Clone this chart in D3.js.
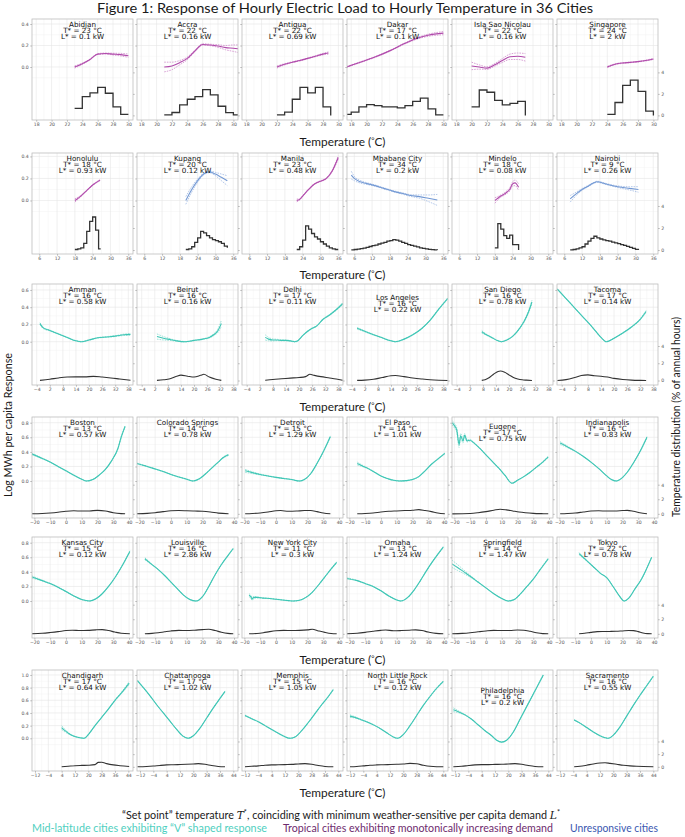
<!DOCTYPE html>
<html>
<head>
<meta charset="utf-8">
<script src="https://cdn.jsdelivr.net/npm/d3@7"></script>
<style>
  body { margin: 0; background: #fff; }
  svg text { font-family: "DejaVu Sans", sans-serif; }
  .latex { font-family: Lato, "Open Sans", sans-serif; fill: #1a1a1a; }
</style>
</head>
<body>
<div id="chart"></div>
<script>
// ---- data ----
const cities = [
  "Abidjan", "Accra", "Antigua", "Dakar", "Isla Sao Nicolau", "Singapore",
  "Honolulu", "Kupang", "Manila", "Mbabane City", "Mindelo", "Nairobi",
  "Amman", "Beirut", "Delhi", "Los Angeles", "San Diego", "Tacoma",
  "Boston", "Colorado Springs", "Detroit", "El Paso", "Eugene", "Indianapolis",
  "Kansas City", "Louisville", "New York City", "Omaha", "Springfield", "Tokyo",
  "Chandigarh", "Chattanooga", "Memphis", "North Little Rock", "Philadelphia", "Sacramento"
];
const cityGroup = [
  "trop", "trop", "trop", "trop", "trop", "trop",
  "trop", "unres", "trop", "unres", "trop", "unres",
  "v", "v", "v", "v", "v", "v",
  "v", "v", "v", "v", "v", "v",
  "v", "v", "v", "v", "v", "v",
  "v", "v", "v", "v", "v", "v"
];
const setPointT = [23, 22, 22, 17, 22, 24, 18, 20, 23, 34, 18, 9,
                   16, 16, 17, 16, 16, 17, 13, 14, 15, 14, 17, 16,
                   15, 16, 11, 13, 14, 22, 17, 17, 15, 16, 16, 16];
const minLoadL = [0.1, 0.16, 0.69, 0.1, 0.16, 2, 0.93, 0.12, 0.48, 0.2, 0.08, 0.26,
                  0.58, 0.16, 0.11, 0.22, 0.78, 0.14, 0.57, 0.78, 1.29, 1.01, 0.75, 0.83,
                  0.12, 2.86, 0.3, 1.24, 1.47, 0.78, 0.64, 1.02, 1.05, 0.12, 0.2, 0.55];

// [temperature, log response, CI half width]
const responseCurves = [
  [[23,0,0.01],[24,0.03,0.006],[25,0.07,0.004],[26,0.12,0.004],[27,0.125,0.005],[28,0.12,0.008],[29,0.115,0.012],[30,0.105,0.015]],
  [[21,0,0.045],[22,0.01,0.035],[23,0.04,0.02],[24,0.08,0.012],[25,0.15,0.008],[26,0.21,0.006],[27,0.205,0.007],[28,0.195,0.012],[29,0.18,0.02],[30,0.175,0.03],[30.6,0.17,0.035]],
  [[22,0,0.01],[23,0.025,0.006],[24,0.045,0.004],[25,0.06,0.004],[26,0.08,0.004],[27,0.1,0.005],[28,0.12,0.007],[28.7,0.13,0.01]],
  [[17.4,0,0.005],[19,0.04,0.004],[21,0.09,0.004],[23,0.15,0.004],[25,0.22,0.005],[26.5,0.265,0.007],[28,0.295,0.01],[30,0.315,0.015]],
  [[20,0.01,0.035],[21,0,0.02],[22,-0.01,0.012],[23,0.02,0.012],[24,0.06,0.018],[25,0.095,0.025],[26,0.1,0.03],[27,0.09,0.035]],
  [[24,0,0.006],[25,0.025,0.004],[26,0.037,0.003],[27,0.043,0.003],[28,0.05,0.003],[29,0.06,0.004],[30,0.075,0.005]],
  [[18,0,0.015],[20,0.04,0.006],[22,0.09,0.004],[24,0.14,0.004],[26.5,0.185,0.006]],
  [[20,0,0.035],[22,0.1,0.025],[24,0.18,0.015],[26,0.24,0.008],[28,0.26,0.008],[30,0.24,0.015],[32,0.21,0.03],[34,0.18,0.045]],
  [[22,0,0.012],[23,0.01,0.006],[24,0.04,0.004],[26,0.1,0.004],[28,0.15,0.004],[30,0.175,0.004],[32,0.2,0.005],[34,0.27,0.008],[36,0.39,0.015]],
  [[5,0.23,0.035],[6,0.2,0.02],[8,0.17,0.012],[10,0.155,0.008],[13,0.135,0.006],[16,0.11,0.005],[19,0.085,0.005],[22,0.065,0.006],[25,0.045,0.008],[28,0.035,0.015],[31,0.02,0.03],[34,0.005,0.05]],
  [[18,0,0.025],[19,0.02,0.015],[20,0.04,0.01],[21,0.055,0.01],[22,0.075,0.012],[23,0.1,0.015],[24,0.15,0.02],[24.8,0.16,0.025],[26,0.12,0.03]],
  [[8,0.015,0.03],[10,0.06,0.015],[12,0.1,0.008],[14,0.13,0.006],[16,0.16,0.005],[17,0.17,0.005],[20,0.15,0.005],[24,0.125,0.007],[28,0.11,0.015],[31,0.1,0.025]],
  [[-2.5,0.21,0.01],[-1,0.16,0.008],[2,0.13,0.005],[6,0.09,0.004],[10,0.05,0.003],[14,0.01,0.003],[16.5,0,0.003],[20,0.02,0.003],[24,0.045,0.003],[28,0.055,0.004],[32,0.065,0.005],[36,0.08,0.008],[39,0.085,0.01]],
  [[3,0.06,0.03],[6,0.04,0.02],[9,0.025,0.01],[12,0.01,0.005],[16,0,0.003],[20,0.015,0.003],[24,0.03,0.004],[27,0.05,0.006],[29,0.08,0.01],[31,0.13,0.02],[32.5,0.21,0.035]],
  [[4.5,0.05,0.03],[6,0.03,0.02],[8,0.02,0.012],[10,0.02,0.008],[12,0.015,0.006],[14,0.015,0.005],[16,0.01,0.004],[18,0,0.004],[19,0.005,0.004],[22,0.08,0.004],[26,0.155,0.004],[28,0.18,0.005],[31,0.26,0.006],[34,0.31,0.006],[37,0.37,0.008],[40,0.44,0.012]],
  [[-1.5,0.155,0.01],[2,0.12,0.005],[6,0.08,0.004],[10,0.045,0.003],[14,0.01,0.003],[16,0,0.003],[20,0.03,0.003],[24,0.08,0.003],[28,0.15,0.004],[32,0.25,0.005],[36,0.38,0.006],[40,0.5,0.008]],
  [[7.5,0.115,0.015],[9,0.09,0.008],[12,0.05,0.004],[15,0.01,0.003],[16.5,0,0.003],[19,0.02,0.003],[22,0.07,0.004],[25,0.16,0.006],[27,0.24,0.01],[29,0.35,0.015],[30.5,0.46,0.02]],
  [[-6,0.61,0.006],[-2,0.5,0.004],[2,0.39,0.003],[6,0.28,0.003],[10,0.17,0.003],[14,0.05,0.003],[16.5,0,0.003],[20,0.04,0.003],[24,0.1,0.004],[28,0.17,0.005],[32,0.26,0.008],[34.7,0.35,0.012]],
  [[-21.5,0.37,0.01],[-15,0.31,0.004],[-10,0.26,0.003],[-5,0.2,0.003],[0,0.14,0.003],[5,0.08,0.003],[10,0.025,0.003],[13,0,0.003],[17,0.02,0.003],[21,0.08,0.003],[25,0.16,0.004],[29,0.28,0.005],[33,0.45,0.006],[35,0.6,0.01],[37.5,0.75,0.012]],
  [[-21.5,0.24,0.006],[-15,0.2,0.003],[-10,0.165,0.003],[-5,0.13,0.003],[0,0.09,0.003],[5,0.055,0.003],[10,0.025,0.003],[14,0,0.003],[18,0.03,0.003],[22,0.1,0.003],[26,0.18,0.004],[30,0.26,0.005],[33,0.32,0.007],[36.5,0.36,0.01]],
  [[-19.5,0.14,0.02],[-15,0.115,0.012],[-10,0.09,0.006],[-5,0.07,0.004],[0,0.05,0.003],[5,0.035,0.003],[10,0.02,0.003],[15,0,0.003],[18,0.02,0.003],[22,0.1,0.004],[26,0.24,0.005],[30,0.4,0.006],[34.5,0.61,0.01]],
  [[-15,0.24,0.02],[-12,0.21,0.01],[-8,0.17,0.005],[-4,0.12,0.004],[0,0.07,0.003],[4,0.035,0.003],[8,0.01,0.003],[12,0,0.003],[16,0.005,0.003],[20,0.02,0.003],[24,0.06,0.004],[28,0.14,0.004],[32,0.23,0.005],[36,0.3,0.006],[40.5,0.38,0.008]],
  [[-21.5,0.8,0.03],[-20,0.76,0.03],[-18.5,0.7,0.03],[-17,0.5,0.04],[-16,0.62,0.03],[-14.5,0.55,0.03],[-13.5,0.63,0.02],[-12,0.55,0.015],[-10,0.56,0.01],[-8,0.53,0.006],[-4,0.45,0.004],[0,0.36,0.003],[4,0.27,0.003],[8,0.18,0.003],[12,0.08,0.003],[16.5,-0.03,0.003],[20,0.01,0.003],[24,0.06,0.003],[28,0.12,0.004],[32,0.19,0.005],[36,0.26,0.006],[39.5,0.33,0.008]],
  [[-19.5,0.52,0.02],[-15,0.47,0.01],[-10,0.41,0.005],[-5,0.34,0.004],[0,0.26,0.003],[5,0.17,0.003],[10,0.07,0.003],[13,0.02,0.003],[16,0,0.003],[19,0.03,0.003],[23,0.12,0.004],[27,0.25,0.005],[31,0.4,0.006],[35.5,0.6,0.01]],
  [[-21.5,0.33,0.015],[-15,0.28,0.006],[-10,0.24,0.004],[-5,0.19,0.003],[0,0.13,0.003],[5,0.07,0.003],[10,0.02,0.003],[15,0,0.003],[19,0.03,0.003],[23,0.1,0.004],[27,0.2,0.004],[31,0.32,0.005],[35,0.46,0.006],[40.5,0.68,0.01]],
  [[-16.5,0.58,0.015],[-12,0.5,0.005],[-8,0.43,0.004],[-4,0.35,0.003],[0,0.26,0.003],[4,0.17,0.003],[8,0.08,0.003],[12,0.02,0.003],[16,0,0.003],[20,0.06,0.003],[24,0.2,0.004],[28,0.36,0.004],[32,0.5,0.005],[36,0.62,0.006],[39.5,0.72,0.008]],
  [[-17,0.08,0.02],[-16,0.06,0.02],[-15,0.03,0.02],[-14,0.05,0.015],[-12,0.05,0.008],[-8,0.04,0.004],[-4,0.035,0.003],[0,0.025,0.003],[4,0.015,0.003],[8,0.005,0.003],[11,0,0.003],[15,0.01,0.003],[19,0.05,0.003],[23,0.12,0.004],[27,0.22,0.004],[31,0.33,0.005],[35,0.44,0.006],[38.5,0.53,0.01]],
  [[-21.5,0.31,0.008],[-15,0.28,0.004],[-10,0.24,0.003],[-5,0.2,0.003],[0,0.14,0.003],[5,0.07,0.003],[10,0.015,0.003],[12.5,0,0.003],[17,0.05,0.003],[21,0.15,0.003],[25,0.28,0.004],[29,0.42,0.005],[33,0.55,0.006],[36,0.64,0.007],[39.5,0.74,0.008]],
  [[-21.5,0.51,0.05],[-18,0.46,0.04],[-14,0.4,0.025],[-10,0.34,0.012],[-5,0.26,0.005],[0,0.18,0.003],[5,0.1,0.003],[10,0.035,0.003],[14,0,0.003],[18,0.02,0.003],[22,0.1,0.003],[26,0.2,0.004],[30,0.3,0.005],[34,0.42,0.006],[39.5,0.58,0.01]],
  [[-7.5,0.65,0.015],[-5,0.6,0.01],[-2,0.54,0.005],[2,0.46,0.004],[6,0.38,0.003],[10,0.32,0.003],[14,0.2,0.003],[18,0.07,0.003],[21,0,0.003],[24,0.04,0.003],[28,0.17,0.004],[32,0.3,0.005],[35,0.43,0.006],[38.5,0.6,0.008]],
  [[4,0.17,0.03],[6,0.12,0.02],[8,0.08,0.01],[10,0.05,0.006],[13,0.02,0.004],[16,0.005,0.004],[17.5,0,0.004],[20,0.06,0.004],[24,0.2,0.005],[28,0.33,0.005],[32,0.46,0.006],[36,0.6,0.008],[40,0.72,0.012],[44.5,0.87,0.025]],
  [[-13.5,0.91,0.008],[-10,0.8,0.005],[-6,0.67,0.004],[-2,0.53,0.003],[2,0.4,0.003],[6,0.27,0.003],[10,0.14,0.003],[14,0.03,0.003],[17,0,0.003],[20,0.04,0.003],[24,0.16,0.003],[28,0.32,0.004],[32,0.48,0.005],[36,0.63,0.006],[39,0.74,0.008]],
  [[-12,0.36,0.008],[-8,0.31,0.004],[-4,0.26,0.003],[0,0.2,0.003],[4,0.14,0.003],[8,0.08,0.003],[12,0.025,0.003],[15,0,0.003],[18,0.02,0.003],[22,0.12,0.003],[26,0.25,0.004],[30,0.39,0.005],[34,0.53,0.006],[38,0.66,0.007],[41,0.77,0.01]],
  [[-12,0.35,0.02],[-9,0.33,0.01],[-5,0.29,0.005],[-1,0.25,0.004],[3,0.2,0.003],[7,0.14,0.003],[11,0.07,0.003],[14,0.02,0.003],[16.5,0,0.003],[20,0.06,0.003],[24,0.2,0.004],[28,0.36,0.005],[32,0.52,0.006],[36,0.66,0.007],[40,0.79,0.008],[44,0.9,0.01]],
  [[-13,0.45,0.03],[-10,0.42,0.015],[-6,0.37,0.006],[-2,0.3,0.004],[2,0.21,0.003],[6,0.12,0.003],[10,0.04,0.003],[13,-0.03,0.003],[16,-0.06,0.003],[19,-0.03,0.003],[23,0.1,0.004],[27,0.3,0.005],[31,0.5,0.006],[35,0.7,0.008],[38,0.85,0.01],[41,1.0,0.012]],
  [[-3.5,0.29,0.006],[0,0.24,0.004],[4,0.17,0.003],[8,0.1,0.003],[12,0.04,0.003],[15,0.01,0.003],[17,0,0.003],[20,0.05,0.003],[24,0.18,0.004],[28,0.35,0.005],[32,0.52,0.006],[36,0.68,0.007],[40,0.83,0.008],[44,0.98,0.01]]
];

// temperature distribution, % of annual hours: [temperature, share]
const tempShares = [
  [[23,0.66],[24,1.75],[25,2.1],[26,2.6],[27,2.06],[28,0.8],[29,0.1],[30,0.1]],
  [[21,0.05],[22,0.27],[23,0.97],[24,1.5],[25,1.75],[26,2.4],[27,1.9],[28,0.85],[29,0.25],[30,0.05],[30.6,0.05]],
  [[22,0.05],[23,0.3],[24,1.5],[25,2.6],[26,2.1],[27,2.6],[28,0.8],[29,0]],
  [[17.4,0.09],[18,0.3],[19,0.79],[20,1.0],[21,0.91],[22,0.8],[23,0.8],[24,0.7],[25,0.91],[26,1.3],[27,1.6],[28,0.6],[29,0.05],[30,0.05]],
  [[20,0.79],[21,2.36],[22,2.15],[23,1.39],[24,0.97],[25,1.12],[26,1.3],[27,0]],
  [[24,0.09],[25,1.2],[26,2.8],[27,3.27],[28,2.24],[29,0.4],[30,0]],
  [[18,0.05],[19,0.1],[20,0.2],[21,0.6],[22,1.7],[23,2.6],[24,3.0],[25,1.8],[26,0.1],[26.7,0.1]],
  [[20,0.05],[21,0.1],[22,0.3],[23,0.7],[24,1.1],[25,1.7],[26,1.55],[27,1.3],[28,1.1],[29,0.95],[30,0.85],[31,0.75],[32,0.6],[33,0.35],[34,0.2]],
  [[22,0.05],[23,0.3],[24,0.9],[25,2.2],[26,1.9],[27,1.5],[28,1.2],[29,1.0],[30,0.75],[31,0.55],[32,0.35],[33,0.2],[34,0.1],[35,0.05],[36,0.05]],
  [[5,0.02],[6,0.05],[7,0.08],[8,0.12],[9,0.18],[10,0.25],[11,0.32],[12,0.4],[13,0.45],[14,0.55],[15,0.62],[16,0.7],[17,0.8],[18,0.85],[19,0.95],[20,0.9],[21,0.8],[22,0.7],[23,0.6],[24,0.5],[25,0.42],[26,0.35],[27,0.28],[28,0.2],[29,0.15],[30,0.1],[31,0.06],[32,0.04],[33,0.02],[34,0]],
  [[18,0.2],[19,2.4],[20,1.9],[21,1.3],[22,1.05],[23,1.35],[24,0.5],[25,0.5],[26,0]],
  [[8,0.02],[9,0.05],[10,0.1],[11,0.2],[12,0.3],[13,0.55],[14,0.8],[15,1.05],[16,1.25],[17,1.1],[18,1.0],[19,0.92],[20,0.85],[21,0.8],[22,0.72],[23,0.65],[24,0.58],[25,0.5],[26,0.42],[27,0.34],[28,0.25],[29,0.15],[30,0.06],[31,0]],
  [[-2.5,0.02],[2,0.15],[6,0.3],[10,0.4],[14,0.42],[18,0.42],[22,0.48],[26,0.4],[30,0.3],[34,0.18],[39,0.03]],
  [[3,0.02],[6,0.08],[9,0.2],[12,0.5],[14,0.62],[17,0.5],[20,0.4],[23,0.6],[24.5,0.72],[27,0.4],[30,0.15],[32.5,0.02]],
  [[4.5,0.02],[8,0.12],[12,0.2],[16,0.28],[20,0.35],[23,0.45],[25,0.72],[27,0.6],[30,0.45],[34,0.3],[37,0.18],[40,0.02]],
  [[-1.5,0.02],[2,0.05],[6,0.15],[10,0.35],[14,0.55],[16,0.58],[20,0.45],[24,0.3],[28,0.18],[32,0.08],[36,0.03],[40,0.01]],
  [[7.5,0.02],[9,0.1],[11,0.35],[13,0.75],[15,1.05],[16,1.1],[18,0.95],[20,0.65],[22,0.35],[24,0.18],[26,0.08],[28,0.04],[30.5,0.01]],
  [[-6,0.01],[-2,0.1],[2,0.35],[5,0.58],[8,0.65],[11,0.55],[14,0.5],[17,0.4],[20,0.25],[24,0.12],[28,0.05],[32,0.02],[34.7,0.01]],
  [[-21.5,0.01],[-15,0.05],[-10,0.12],[-5,0.22],[0,0.35],[5,0.42],[10,0.38],[15,0.4],[20,0.48],[25,0.4],[30,0.15],[35,0.03],[37.5,0.01]],
  [[-21.5,0.01],[-15,0.06],[-10,0.15],[-5,0.3],[0,0.42],[5,0.45],[10,0.42],[15,0.38],[20,0.35],[25,0.25],[30,0.1],[36.5,0.01]],
  [[-19.5,0.01],[-15,0.05],[-10,0.12],[-5,0.25],[0,0.42],[3,0.45],[8,0.35],[13,0.38],[18,0.45],[22,0.45],[26,0.3],[30,0.12],[34.5,0.01]],
  [[-15,0.01],[-10,0.05],[-5,0.12],[0,0.25],[5,0.35],[10,0.4],[15,0.45],[20,0.5],[24,0.58],[28,0.45],[32,0.3],[36,0.12],[40.5,0.01]],
  [[-21.5,0],[-10,0.05],[-5,0.15],[0,0.3],[5,0.5],[9,0.64],[13,0.55],[17,0.4],[21,0.25],[25,0.15],[30,0.07],[35,0.03],[39.5,0.01]],
  [[-19.5,0.01],[-15,0.05],[-10,0.12],[-5,0.25],[0,0.38],[5,0.42],[10,0.38],[15,0.4],[20,0.45],[23,0.48],[27,0.35],[31,0.15],[35.5,0.01]],
  [[-21.5,0.02],[-15,0.08],[-10,0.18],[-5,0.3],[0,0.45],[4,0.5],[9,0.45],[14,0.48],[19,0.55],[23,0.58],[27,0.45],[31,0.25],[35,0.08],[40.5,0.01]],
  [[-16.5,0.01],[-12,0.06],[-8,0.15],[-4,0.28],[0,0.4],[5,0.48],[10,0.45],[15,0.5],[20,0.58],[24,0.62],[28,0.45],[32,0.22],[36,0.06],[39.5,0.01]],
  [[-17,0.01],[-12,0.05],[-8,0.15],[-4,0.3],[0,0.42],[5,0.48],[10,0.45],[15,0.48],[20,0.55],[23,0.62],[27,0.4],[31,0.2],[35,0.05],[38.5,0.01]],
  [[-21.5,0.01],[-15,0.08],[-10,0.2],[-5,0.35],[0,0.48],[3,0.52],[8,0.42],[13,0.45],[18,0.5],[22,0.55],[26,0.45],[30,0.25],[35,0.06],[39.5,0.01]],
  [[-21.5,0.01],[-15,0.06],[-10,0.15],[-5,0.28],[0,0.4],[5,0.48],[10,0.45],[15,0.45],[20,0.52],[24,0.5],[28,0.35],[32,0.15],[36,0.03],[39.5,0.01]],
  [[-7.5,0.01],[-4,0.08],[0,0.2],[4,0.3],[8,0.32],[12,0.33],[16,0.35],[20,0.4],[24,0.45],[27,0.44],[30,0.3],[33,0.12],[36,0.03],[38.5,0.01]],
  [[4,0.02],[8,0.1],[12,0.18],[16,0.22],[20,0.25],[24,0.35],[26,0.7],[28,0.72],[31,0.5],[35,0.3],[39,0.18],[44.5,0.05]],
  [[-13.5,0.01],[-8,0.05],[-4,0.12],[0,0.22],[4,0.3],[8,0.33],[12,0.36],[16,0.4],[20,0.45],[23,0.5],[27,0.4],[31,0.2],[35,0.06],[39,0.01]],
  [[-12,0.01],[-8,0.08],[-4,0.15],[0,0.25],[4,0.3],[8,0.32],[12,0.35],[16,0.38],[20,0.45],[24,0.5],[28,0.4],[32,0.2],[36,0.06],[41,0.01]],
  [[-12,0.01],[-8,0.06],[-4,0.15],[0,0.25],[4,0.3],[8,0.33],[12,0.36],[16,0.4],[20,0.45],[24,0.55],[28,0.48],[32,0.25],[36,0.08],[40,0.02],[44,0.01]],
  [[-13,0.01],[-8,0.08],[-4,0.2],[0,0.3],[4,0.35],[8,0.35],[12,0.38],[16,0.4],[20,0.45],[24,0.5],[28,0.4],[32,0.2],[36,0.06],[41,0.01]],
  [[-3.5,0.01],[0,0.08],[4,0.25],[8,0.45],[12,0.6],[15,0.65],[18,0.55],[22,0.4],[26,0.25],[30,0.15],[34,0.08],[38,0.04],[44,0.01]]
];

const rowXTicks = [
  [18, 20, 22, 24, 26, 28, 30],
  [6, 12, 18, 24, 30, 36],
  [-4, 2, 8, 14, 20, 26, 32, 38],
  [-20, -10, 0, 10, 20, 30, 40],
  [-20, -10, 0, 10, 20, 30, 40],
  [-12, -4, 4, 12, 20, 28, 36, 44]
];
const rowYTicks = [
  [0, 0.2, 0.4],
  [0, 0.2, 0.4],
  [0, 0.2, 0.4, 0.6],
  [0, 0.2, 0.4, 0.6, 0.8],
  [0, 0.2, 0.4, 0.6, 0.8],
  [0, 0.2, 0.4, 0.6, 0.8, 1.0]
];
const shareTicks = [0, 2, 4];

// ---- layout ----
const width = 685, height = 837;
const panelX0 = 32, panelStep = 105, panelW = 101, panelH = 101;
const rowTop = [19, 153, 284, 417, 537, 670];
const rowDomainX = [[17.45, 30.6], [3.55, 37.6], [-6.15, 40.15], [-21.5, 42.5], [-21.5, 42.5], [-13.8, 46.8]];
const rowDomainY = [[-0.493, 0.4465], [-0.486, 0.431], [-0.502, 0.669], [-0.507, 0.878], [-0.507, 0.878], [-0.516, 1.078]];
const shareZero = -0.45;        // 0 % sits here on the response axis, 1 % = 0.1
const stepRows = [0, 1];        // coarse 1 degree bins drawn as steps
const axisTitleRows = [[0, 146], [1, 279], [2, 411], [4, 664], [5, 797]];
const labelShift = { "Los Angeles": 8, "Eugene": 4, "Philadelphia": 15 };

const lineColor = { trop: "#b04aab", unres: "#7399d4", v: "#3ec6b5" };
const ciColor = { trop: "#cf8ccb", unres: "#a2bbe5", v: "#86dccf" };

const svg = d3.select("#chart")
  .append("svg")
    .attr("width", width)
    .attr("height", height)
    .style("background", "#fff");

function styleAxis(sel) {
  sel.select(".domain").remove();
  sel.selectAll("line").attr("stroke", "#8a8a8a").attr("stroke-width", 0.5);
  sel.selectAll("text")
    .attr("fill", "#555")
    .style("font-size", "4.6px")
    .style("font-family", "DejaVu Sans");
}

cities.forEach(function(name, i) {
  const row = Math.floor(i / 6), col = i % 6;
  const left = panelX0 + col * panelStep, top = rowTop[row];

  const x = d3.scaleLinear().domain(rowDomainX[row]).range([left, left + panelW]);
  const y = d3.scaleLinear().domain(rowDomainY[row]).range([top + panelH, top]);
  const yShare = d3.scaleLinear()
      .domain(rowDomainY[row].map(v => (v - shareZero) * 10))
      .range([top + panelH, top]);

  const g = svg.append("g").attr("class", "panel");
  g.append("clipPath").attr("id", "clip" + i)
    .append("rect").attr("x", left).attr("y", top).attr("width", panelW).attr("height", panelH);

  g.append("rect")
    .attr("x", left).attr("y", top).attr("width", panelW).attr("height", panelH)
    .attr("fill", "#fff");

  // grid
  const xt = rowXTicks[row], xs = xt[1] - xt[0];
  const xMinor = d3.range(xt[0] - xs / 2, xt[xt.length - 1] + xs, xs)
      .filter(d => d > rowDomainX[row][0] && d < rowDomainX[row][1]);
  const yt = rowYTicks[row];
  const yMinor = d3.range(yt[0] - 0.1, yt[yt.length - 1] + 0.2, 0.2)
      .filter(d => d > rowDomainY[row][0] && d < rowDomainY[row][1]);

  const grid = g.append("g").attr("clip-path", "url(#clip" + i + ")");
  grid.selectAll(".xminor").data(xMinor).join("line")
    .attr("x1", d => x(d)).attr("x2", d => x(d)).attr("y1", top).attr("y2", top + panelH)
    .attr("stroke", "#f3f3f3").attr("stroke-width", 0.5);
  grid.selectAll(".yminor").data(yMinor).join("line")
    .attr("x1", left).attr("x2", left + panelW).attr("y1", d => y(d)).attr("y2", d => y(d))
    .attr("stroke", "#f3f3f3").attr("stroke-width", 0.5);
  grid.selectAll(".xmajor").data(xt).join("line")
    .attr("x1", d => x(d)).attr("x2", d => x(d)).attr("y1", top).attr("y2", top + panelH)
    .attr("stroke", "#e6e6e6").attr("stroke-width", 0.6);
  grid.selectAll(".ymajor").data(yt).join("line")
    .attr("x1", left).attr("x2", left + panelW).attr("y1", d => y(d)).attr("y2", d => y(d))
    .attr("stroke", "#e6e6e6").attr("stroke-width", 0.6);

  const plot = g.append("g").attr("clip-path", "url(#clip" + i + ")");

  // temperature distribution
  const shareLine = d3.line()
      .x(d => x(d[0]))
      .y(d => yShare(d[1]))
      .curve(stepRows.includes(row) ? d3.curveStepAfter : d3.curveMonotoneX);
  plot.append("path")
    .datum(tempShares[i])
    .attr("d", shareLine)
    .attr("fill", "none")
    .attr("stroke", "#333")
    .attr("stroke-width", stepRows.includes(row) ? 1.3 : 1.1);

  // response and its confidence band
  const grp = cityGroup[i];
  const curve = responseCurves[i];
  [1, -1].forEach(function(s) {
    plot.append("path")
      .datum(curve)
      .attr("d", d3.line().x(d => x(d[0])).y(d => y(d[1] + s * d[2])).curve(d3.curveMonotoneX))
      .attr("fill", "none")
      .attr("stroke", ciColor[grp])
      .attr("stroke-width", 0.8)
      .attr("stroke-dasharray", "1.6,1");
  });
  plot.append("path")
    .datum(curve)
    .attr("d", d3.line().x(d => x(d[0])).y(d => y(d[1])).curve(d3.curveMonotoneX))
    .attr("fill", "none")
    .attr("stroke", lineColor[grp])
    .attr("stroke-width", 1.1);

  g.append("rect")
    .attr("x", left).attr("y", top).attr("width", panelW).attr("height", panelH)
    .attr("fill", "none").attr("stroke", "#bdbdbd").attr("stroke-width", 0.8);

  // panel label
  const lab = g.append("text")
    .attr("text-anchor", "middle")
    .attr("fill", "#111")
    .style("font-size", "7.2px");
  const ly = top + 7.5 + (labelShift[name] || 0);
  [name, "T* = " + setPointT[i] + " °C", "L* = " + minLoadL[i] + " kW"].forEach(function(t, k) {
    lab.append("tspan").attr("x", left + panelW / 2).attr("y", ly + k * 6).text(t);
  });

  // axes
  g.append("g")
    .attr("transform", "translate(0," + (top + panelH) + ")")
    .call(d3.axisBottom(x).tickValues(xt).tickSize(1.8).tickPadding(1.2))
    .call(styleAxis);

  g.append("g")
    .attr("transform", "translate(" + left + ",0)")
    .call(d3.axisLeft(y).tickValues(yt).tickSize(1.8).tickPadding(1.5)
      .tickFormat(col === 0 ? d3.format(".1f") : ""))
    .call(styleAxis);

  g.append("g")
    .attr("transform", "translate(" + (left + panelW) + ",0)")
    .call(d3.axisRight(yShare).tickValues(shareTicks).tickSize(1.8).tickPadding(1.5)
      .tickFormat(col === 5 ? d3.format("d") : ""))
    .call(styleAxis);
});

// x axis titles
axisTitleRows.forEach(function(r) {
  const t = svg.append("text")
    .attr("class", "latex")
    .attr("x", 342.5).attr("y", r[1])
    .attr("text-anchor", "middle")
    .style("font-size", "11.5px")
    .attr("textLength", 86).attr("lengthAdjust", "spacingAndGlyphs");
  t.append("tspan").text("Temperature (");
  t.append("tspan").attr("dy", -3.5).style("font-size", "7.5px").text("°");
  t.append("tspan").attr("dy", 3.5).text("C)");
});

// title
svg.append("text")
  .attr("class", "latex")
  .attr("x", 345).attr("y", 12.5)
  .attr("text-anchor", "middle")
  .style("font-size", "14px")
  .attr("textLength", 496).attr("lengthAdjust", "spacingAndGlyphs")
  .text("Figure 1: Response of Hourly Electric Load to Hourly Temperature in 36 Cities");

// y axis titles
svg.append("text")
  .attr("class", "latex")
  .attr("transform", "translate(12,425) rotate(-90)")
  .attr("text-anchor", "middle")
  .style("font-size", "11px")
  .attr("textLength", 144).attr("lengthAdjust", "spacingAndGlyphs")
  .text("Log MWh per capita Response");

svg.append("text")
  .attr("class", "latex")
  .attr("transform", "translate(680,417) rotate(-90)")
  .attr("text-anchor", "middle")
  .style("font-size", "11px")
  .attr("textLength", 200).attr("lengthAdjust", "spacingAndGlyphs")
  .text("Temperature distribution (% of annual hours)");

// legend
const note = svg.append("text")
  .attr("class", "latex")
  .attr("x", 341).attr("y", 819)
  .attr("text-anchor", "middle")
  .style("font-size", "10.5px")
  .attr("textLength", 438).attr("lengthAdjust", "spacingAndGlyphs");
note.append("tspan").text("“Set point” temperature ");
note.append("tspan").style("font-family", "DejaVu Serif").style("font-style", "italic").text("T");
note.append("tspan").attr("dy", -4).style("font-size", "7px").text("*");
note.append("tspan").attr("dy", 4).text(", coinciding with minimum weather-sensitive per capita demand ");
note.append("tspan").style("font-family", "DejaVu Serif").style("font-style", "italic").text("L");
note.append("tspan").attr("dy", -4).style("font-size", "7px").text("*");

const legendItems = ["Mid-latitude cities exhibiting “V” shaped response",
                     "Tropical cities exhibiting monotonically increasing demand",
                     "Unresponsive cities"];
const legendColor = ["#4fcfc0", "#6e2b6e", "#3a57b0"];
const legendX = [32, 283, 570], legendW = [235, 270, 88];
legendItems.forEach(function(t, k) {
  svg.append("text")
    .attr("class", "latex")
    .attr("x", legendX[k]).attr("y", 832)
    .style("font-size", "10.5px")
    .style("fill", legendColor[k])
    .attr("textLength", legendW[k]).attr("lengthAdjust", "spacingAndGlyphs")
    .text(t);
});
</script>
</body>
</html>
